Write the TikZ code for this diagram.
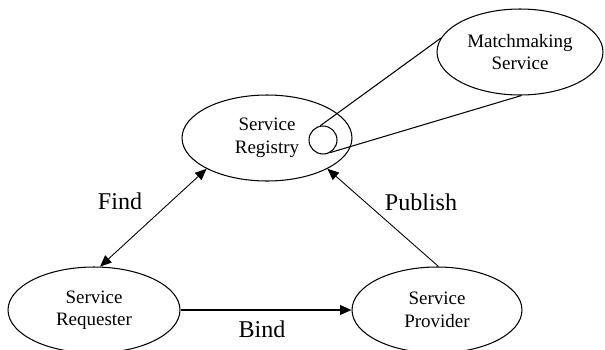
\documentclass[tikz,border=0pt]{standalone}
\usepackage{fontspec}
\setmainfont{Liberation Serif}
\usetikzlibrary{arrows.meta,shapes.geometric}
\tikzset{
    role/.style={ellipse, draw, line width=0.6pt, inner sep=0pt,
                 minimum width=3.4cm, minimum height=1.72cm, align=center,
                 font=\fontsize{10.8}{12.8}\selectfont},
    lens/.style={circle, draw, line width=0.6pt, inner sep=0pt,
                 minimum size=0.56cm},
    zoomline/.style={line width=0.6pt},
    link/.style={-{Triangle[length=6.5pt,width=5.5pt]}, line width=0.5pt},
    twoway/.style={link, {Triangle[length=6.5pt,width=5.5pt]}-{Triangle[length=6.5pt,width=5.5pt]}},
    strong/.style={link, line width=1.1pt},
    tag/.style={font=\fontsize{13.7}{15}\selectfont},
}
\newcommand{\soacanvas}{
    \path[use as bounding box] (0,0) rectangle (605,349);
}

\begin{document}
\begin{tikzpicture}[x=0.02cm, y=-0.02cm]
    \soacanvas

    \node[role] (registry) at (267,138) {Service\\Registry};
    \node[role, minimum width=3.32cm] (matchmaking) at (520,52) {Matchmaking\\Service};
    \node[role, minimum width=3.44cm] (requester) at (94,310) {Service\\Requester};
    \node[role] (provider) at (437,310) {Service\\Provider};
    \node[lens] (spot) at (323,140) {};

    \draw[zoomline] (spot.101) -- (matchmaking.170);
    \draw[zoomline] (spot.-60) -- (matchmaking.-88);

    \draw[twoway] (registry.207) -- (requester.82);
    \draw[link] (provider.88) -- (registry.333);
    \draw[strong] (requester.east) -- (provider.west);

    \node[tag] (find) at (120,201) {Find};
    \node[tag] (publish) at (421,202) {Publish};
    \node[tag] (bind) at (262,329) {Bind};

\end{tikzpicture}
\end{document}
